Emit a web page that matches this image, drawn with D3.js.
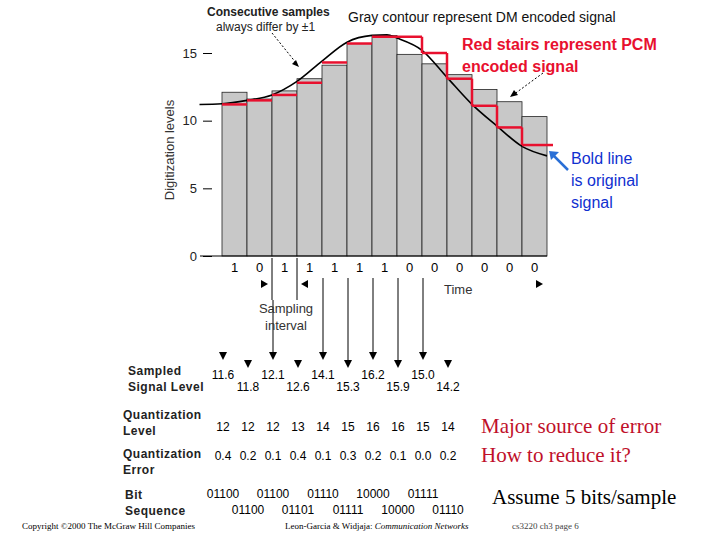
<!DOCTYPE html>
<html><head><meta charset="utf-8">
<script src="https://cdn.jsdelivr.net/npm/d3@7"></script>
<style>body{margin:0;background:#fff}svg{font-family:Arial,"Liberation Sans",sans-serif}</style>
</head><body><svg width="720" height="540"></svg>
<script>
var bits = ["1","0","1","1","1","1","1","0","0","0","0","0","0"];
var dmLevels = [12.1, 11.6, 12.2, 13.1, 14.1, 15.7, 16.3, 14.9, 14.2, 13.4, 12.3, 11.4, 10.3];
var pcmLevels = [11.2, 11.5, 11.9, 12.8, 14.3, 15.7, 16.2, 16.2, 15.0, 13.1, 11.1, 9.5, 8.2];
var curveT = [-0.9, 0, 1, 2, 3, 4, 5, 6, 6.6, 7, 8, 9, 10, 11, 12, 13];
var curveV = [11.2, 11.25, 11.5, 11.9, 12.9, 14.4, 15.8, 16.3, 16.35, 16.1, 15.2, 13.2, 11.2, 9.6, 8.1, 7.4];
var sampled = ["11.6","11.8","12.1","12.6","14.1","15.3","16.2","15.9","15.0","14.2"];
var qLevels = ["12","12","12","13","14","15","16","16","15","14"];
var qErrors = ["0.4","0.2","0.1","0.4","0.1","0.3","0.2","0.1","0.0","0.2"];
var bitsRow1 = ["01100","01100","01110","10000","01111"];
var bitsRow2 = ["01100","01101","01111","10000","01110"];
var yTicks = [0, 5, 10, 15];

var svg = d3.select("svg");
var x = d3.scaleLinear([0, 13], [222, 547]);
var y = d3.scaleLinear([0, 15], [256, 53]);

// DM bars
svg.append("g").selectAll("rect").data(dmLevels).join("rect")
	.attr("x", (d,i) => x(i)).attr("width", x(1)-x(0))
	.attr("y", d => y(d)).attr("height", d => y(0)-y(d))
	.attr("fill", "#c8c8c8").attr("stroke", "#222").attr("stroke-width", 0.8);

// axes
svg.append("line").attr("x1", 200).attr("x2", x(13)).attr("y1", y(0)).attr("y2", y(0)).attr("stroke", "#000");
var ya = svg.append("g").attr("transform", "translate(212,0)")
	.call(d3.axisLeft(y).tickValues(yTicks).tickSize(9).tickPadding(6));
ya.select(".domain").remove();
ya.selectAll("text").attr("font-size", 13).attr("fill", "#222");
svg.append("text").attr("transform", "translate(174,150) rotate(-90)").attr("text-anchor", "middle")
	.attr("font-size", 13).attr("fill", "#333").text("Digitization levels");

// original signal
svg.append("path").datum(d3.zip(curveT, curveV))
	.attr("d", d3.line(d => x(d[0]), d => y(d[1])).curve(d3.curveMonotoneX))
	.attr("fill", "none").attr("stroke", "#000").attr("stroke-width", 1.6);

// PCM stairs
var red = "#e8102e";
svg.append("g").selectAll("line").data(pcmLevels).join("line")
	.attr("x1", (d,i) => x(i)).attr("x2", (d,i) => x(i+1) + (i == 12 ? 6 : 0))
	.attr("y1", d => y(d)).attr("y2", d => y(d))
	.attr("stroke", red).attr("stroke-width", 2.5);
svg.append("g").selectAll("line").data(pcmLevels.slice(7)).join("line")
	.attr("x1", (d,i) => x(i+7)).attr("x2", (d,i) => x(i+7))
	.attr("y1", (d,i) => y(pcmLevels[i+6])).attr("y2", d => y(d))
	.attr("stroke", red).attr("stroke-width", 2.5);

// bits
svg.append("g").selectAll("text").data(bits).join("text")
	.attr("x", (d,i) => x(i+0.5)).attr("y", 272).attr("text-anchor", "middle")
	.attr("font-size", 13).text(d => d);
svg.append("text").attr("x", 444).attr("y", 294).attr("font-size", 13).attr("fill", "#333").text("Time");

// sampling interval marks
var g = svg.append("g").attr("stroke", "#000");
[2, 3].forEach(i => g.append("line").attr("x1", x(i)).attr("x2", x(i)).attr("y1", 258).attr("y2", 300));
svg.append("path").attr("d", `M${x(2)-4},284 l-7,-4 v8z M${x(3)+4},284 l7,-4 v8z M${x(13)-4},284 l-7,-4 v8z`).attr("fill", "#000");
svg.append("text").attr("x", 286).attr("y", 313).attr("text-anchor", "middle").attr("font-size", 13).attr("fill", "#333").text("Sampling");
svg.append("text").attr("x", 286).attr("y", 330).attr("text-anchor", "middle").attr("font-size", 13).attr("fill", "#333").text("interval");

// sample arrows and values
sampled.forEach((v, i) => {
	var cx = x(i) + 1, low = i % 2 == 1;
	var ty = low ? 360 : 352;
	if (i == 2) g.append("line").attr("x1", cx).attr("x2", cx).attr("y1", 300).attr("y2", ty);
	if (i >= 4 && i <= 8) g.append("line").attr("x1", cx).attr("x2", cx).attr("y1", 278).attr("y2", ty);
	svg.append("path").attr("d", `M${cx-4},${ty} h8 l-4,8z`).attr("fill", "#000");
	svg.append("text").attr("x", cx).attr("y", low ? 391 : 379).attr("text-anchor", "middle")
		.attr("font-size", 12).text(v);
});

// row labels
function label(lines, lx, ly) {
	lines.forEach((s, k) => svg.append("text").attr("x", lx).attr("y", ly + k*15.5)
		.attr("font-size", 12).attr("font-weight", "bold").attr("fill", "#222").attr("letter-spacing", 0.5).text(s));
}
label(["Sampled", "Signal  Level"], 128, 375);
label(["Quantization", "Level"], 123, 419);
label(["Quantization", "Error"], 123, 458);
label(["Bit", "Sequence"], 125, 499);

svg.append("g").selectAll("text").data(qLevels).join("text")
	.attr("x", (d,i) => x(i)+1).attr("y", 431).attr("text-anchor", "middle").attr("font-size", 12).text(d => d);
svg.append("g").selectAll("text").data(qErrors).join("text")
	.attr("x", (d,i) => x(i)+1).attr("y", 460).attr("text-anchor", "middle").attr("font-size", 12).text(d => d);
svg.append("g").selectAll("text").data(bitsRow1).join("text")
	.attr("x", (d,i) => x(2*i)+1).attr("y", 498).attr("text-anchor", "middle").attr("font-size", 12).text(d => d);
svg.append("g").selectAll("text").data(bitsRow2).join("text")
	.attr("x", (d,i) => x(2*i+1)+1).attr("y", 514).attr("text-anchor", "middle").attr("font-size", 12).text(d => d);

// annotations
svg.append("text").attr("x", 207).attr("y", 16).attr("font-size", 12).attr("font-weight", "bold").attr("fill", "#222").text("Consecutive samples");
svg.append("text").attr("x", 216).attr("y", 31).attr("font-size", 12).attr("fill", "#222").text("always differ by \u00b11");
svg.append("path").attr("d", "M272,33 L297,64").attr("stroke", "#000").attr("stroke-dasharray", "2,2");
svg.append("path").attr("d", "M299,67 l-7,-3 l4,-4z").attr("fill", "#000");
svg.append("text").attr("x", 348).attr("y", 22).attr("font-size", 14).attr("fill", "#111").text("Gray contour represent DM encoded signal");
svg.append("text").attr("x", 462).attr("y", 50).attr("font-size", 16).attr("font-weight", "bold").attr("fill", red).text("Red stairs represent PCM");
svg.append("text").attr("x", 462).attr("y", 72).attr("font-size", 16).attr("font-weight", "bold").attr("fill", red).text("encoded signal");
svg.append("path").attr("d", "M543,73 L513,95").attr("stroke", "#000").attr("stroke-dasharray", "2,2");
svg.append("path").attr("d", "M510,97 l4,-7 l4,5z").attr("fill", "#000");
["Bold line", "is original", "signal"].forEach((s, k) => svg.append("text").attr("x", 571).attr("y", 164 + k*22)
	.attr("font-size", 16).attr("fill", "#1030d0").text(s));
svg.append("line").attr("x1", 568).attr("y1", 170).attr("x2", 553).attr("y2", 155).attr("stroke", "#2a6fd6").attr("stroke-width", 2.5);
svg.append("path").attr("d", "M549,151 l10,1 l-8,8z").attr("fill", "#2a6fd6");

var serif = "'Liberation Serif','DejaVu Serif',serif";
svg.append("text").attr("x", 481).attr("y", 433).attr("font-family", serif).attr("font-size", 21).attr("fill", "#c0102a").text("Major source of error");
svg.append("text").attr("x", 481).attr("y", 462).attr("font-family", serif).attr("font-size", 21).attr("fill", "#c0102a").text("How to reduce it?");
svg.append("text").attr("x", 492).attr("y", 504).attr("font-family", serif).attr("font-size", 21).attr("fill", "#000").text("Assume 5 bits/sample");
svg.append("text").attr("x", 22).attr("y", 529).attr("font-family", serif).attr("font-size", 9).text("Copyright \u00a92000 The McGraw Hill Companies");
svg.append("text").attr("x", 285).attr("y", 529).attr("font-family", serif).attr("font-size", 9)
	.html("Leon-Garcia &amp; Widjaja:  <tspan font-style='italic'>Communication Networks</tspan>");
svg.append("text").attr("x", 512).attr("y", 529).attr("font-family", serif).attr("font-size", 9).attr("fill", "#444").text("cs3220 ch3 page 6");
</script></body></html>
